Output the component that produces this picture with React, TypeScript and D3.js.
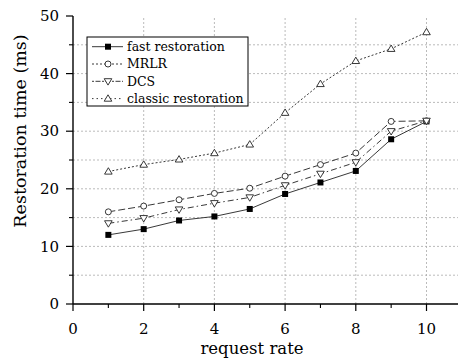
import React from 'react';
import { scaleLinear, line } from 'd3';

const W = 458;
const H = 358;

const requestRates = [1, 2, 3, 4, 5, 6, 7, 8, 9, 10];
const fastRestoration = [12, 13, 14.5, 15.2, 16.5, 19.1, 21.1, 23.1, 28.6, 31.7];
const mrlr = [16, 17, 18.1, 19.2, 20.1, 22.2, 24.2, 26.2, 31.7, 31.8];
const dcs = [14, 14.9, 16.4, 17.5, 18.5, 20.6, 22.6, 24.6, 30, 31.8];
const classicRestoration = [23, 24.2, 25.1, 26.2, 27.7, 33.2, 38.2, 42.2, 44.3, 47.2];

const xTicks = [0, 2, 4, 6, 8, 10];
const xMinor = [1, 3, 5, 7, 9];
const yTicks = [0, 10, 20, 30, 40, 50];
const yMinor = [5, 15, 25, 35, 45];
const hGrid = [5, 10, 15, 20, 25, 30, 35, 40, 45];
const vGrid = [2, 4, 6, 8, 10];

type Marker = 'square' | 'circle' | 'down' | 'up';
const series: { name: string; values: number[]; dash: string; legendDash: string; marker: Marker }[] = [
  { name: 'fast restoration', values: fastRestoration, dash: 'none', legendDash: 'none', marker: 'square' },
  { name: 'MRLR', values: mrlr, dash: '7,3', legendDash: '2,2', marker: 'circle' },
  { name: 'DCS', values: dcs, dash: '6,3,1.5,3', legendDash: '2,1.5,5,1.5', marker: 'down' },
  { name: 'classic restoration', values: classicRestoration, dash: '2,2', legendDash: '1.5,3', marker: 'up' },
];

const FONT = '"DejaVu Serif", serif';

function MarkerShape({ type, x, y }: { type: Marker; x: number; y: number }) {
  if (type === 'square') return <rect x={x - 3} y={y - 3} width={6} height={6} fill="#000" />;
  if (type === 'circle') return <circle cx={x} cy={y} r={3} fill="#fff" stroke="#222" strokeWidth={0.9} />;
  if (type === 'down')
    return <path d={`M${x - 3.8},${y - 2.6}L${x + 3.8},${y - 2.6}L${x},${y + 3.8}Z`} fill="#fff" stroke="#222" strokeWidth={0.9} />;
  return <path d={`M${x - 3.8},${y + 2.6}L${x + 3.8},${y + 2.6}L${x},${y - 3.8}Z`} fill="#fff" stroke="#222" strokeWidth={0.9} />;
}

export default function App() {
  const x = scaleLinear().domain([0, 10]).range([73, 426.5]);
  const y = scaleLinear().domain([0, 50]).range([304, 16]);
  const x0 = x(0);
  const y0 = y(0);

  const lineGen = line<number>()
    .x((_, i) => x(requestRates[i]))
    .y(d => y(d));

  const legendX = 87;
  const legendY = 37;
  const rowH = 17.3;

  return (
    <svg width={W} height={H} style={{ position: 'absolute', left: 0, top: 0, background: '#fff' }} fontFamily={FONT}>
      {/* grid */}
      {hGrid.map(v => (
        <line key={'h' + v} x1={x0} x2={W} y1={y(v)} y2={y(v)} stroke="#aaa" strokeWidth={0.8} strokeDasharray="2,2" />
      ))}
      {vGrid.map(v => (
        <line key={'v' + v} x1={x(v)} x2={x(v)} y1={y0} y2={y(50)} stroke="#aaa" strokeWidth={0.8} strokeDasharray="2,2" />
      ))}

      {/* series */}
      {series.map(s => (
        <g key={s.name}>
          <path d={lineGen(s.values) || ''} fill="none" stroke="#222" strokeWidth={0.9} strokeDasharray={s.dash} />
          {s.values.map((v, i) => (
            <MarkerShape key={i} type={s.marker} x={x(requestRates[i])} y={y(v)} />
          ))}
        </g>
      ))}

      {/* axes */}
      <line x1={x0} x2={x0} y1={y(50)} y2={y0} stroke="#000" strokeWidth={1.4} />
      <line x1={x0} x2={W} y1={y0} y2={y0} stroke="#000" strokeWidth={1.4} />
      {yTicks.map(v => (
        <g key={'yt' + v}>
          <line x1={x0 - 7} x2={x0} y1={y(v)} y2={y(v)} stroke="#000" strokeWidth={1.2} />
          <text x={59} y={y(v)} dy="0.35em" textAnchor="end" fontSize={15}>{v}</text>
        </g>
      ))}
      {yMinor.map(v => (
        <line key={'ym' + v} x1={x0 - 4} x2={x0} y1={y(v)} y2={y(v)} stroke="#000" strokeWidth={1.1} />
      ))}
      {xTicks.map(v => (
        <g key={'xt' + v}>
          <line x1={x(v)} x2={x(v)} y1={y0} y2={y0 + 7} stroke="#000" strokeWidth={1.2} />
          <text x={x(v)} y={334} textAnchor="middle" fontSize={15}>{v}</text>
        </g>
      ))}
      {xMinor.map(v => (
        <line key={'xm' + v} x1={x(v)} x2={x(v)} y1={y0} y2={y0 + 4} stroke="#000" strokeWidth={1.1} />
      ))}

      <text x={252} y={354} textAnchor="middle" fontSize={16.5}>request rate</text>
      <text transform="translate(26,131) rotate(-90)" textAnchor="middle" fontSize={17.5}>Restoration time (ms)</text>

      {/* legend */}
      <rect x={legendX} y={legendY} width={161} height={69} fill="#fff" stroke="#000" strokeWidth={1} />
      {series.map((s, i) => {
        const cy = legendY + 9.7 + i * rowH;
        return (
          <g key={'lg' + s.name}>
            <line x1={92} x2={123} y1={cy} y2={cy} stroke="#222" strokeWidth={0.9} strokeDasharray={s.legendDash} />
            <MarkerShape type={s.marker} x={108} y={cy} />
            <text x={127} y={cy} dy="0.35em" fontSize={12.5}>{s.name}</text>
          </g>
        );
      })}
    </svg>
  );
}
